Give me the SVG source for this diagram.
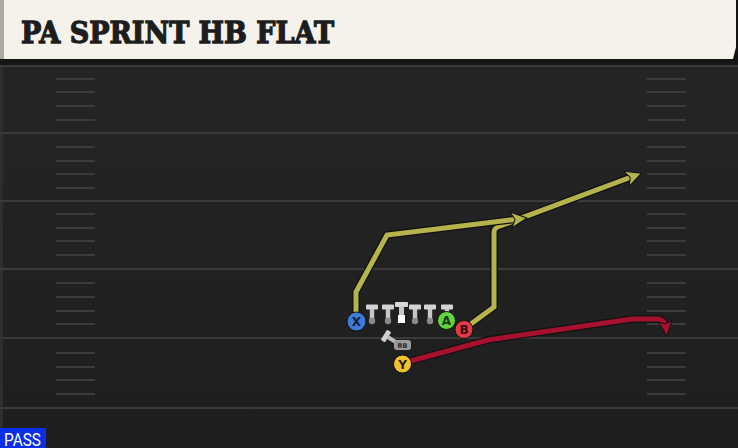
<svg xmlns="http://www.w3.org/2000/svg" width="738" height="448" viewBox="0 0 738 448">
<style>
.yl{stroke:#3a3a3a;stroke-width:2}
.hash{stroke:#3b3b3b;stroke-width:2}
.out{fill:none;stroke:#111;stroke-width:7.5;stroke-linejoin:miter;stroke-linecap:butt}
.ry{fill:none;stroke:#b4b34c;stroke-width:5;stroke-linejoin:miter}
.rr{fill:none;stroke:#a5112f;stroke-width:5;stroke-linejoin:miter}
.lbl{font-family:"DejaVu Sans",sans-serif;font-weight:bold;font-size:12px;text-anchor:middle}
.title{font-family:"DejaVu Serif",serif;font-weight:bold;font-size:30px;fill:#1d1d1d;stroke:#1d1d1d;stroke-width:1.3}
</style>
<defs>
<linearGradient id="bg" x1="0" y1="0" x2="0" y2="1">
<stop offset="0" stop-color="#262626"/><stop offset="1" stop-color="#1e1e1e"/>
</linearGradient>
<marker id="ay" markerUnits="userSpaceOnUse" markerWidth="30" markerHeight="30" refX="0" refY="0" viewBox="-15 -15 30 30" orient="auto" overflow="visible">
<path d="M8,0 L-8,-8 L-4,0 L-8,8 Z" fill="#b4b34c" stroke="#111" stroke-width="1"/>
</marker>
<marker id="ar" markerUnits="userSpaceOnUse" markerWidth="30" markerHeight="30" refX="0" refY="0" viewBox="-15 -15 30 30" orient="auto" overflow="visible">
<path d="M8,0 L-7,-7 L-4,0 L-7,7 Z" fill="#a5112f" stroke="#111" stroke-width="1"/>
</marker>
<g id="tman">
<rect x="-6" y="-2.5" width="12" height="5" rx="1" fill="#d4d4d4"/>
<rect x="-2.2" y="2" width="4.4" height="12" fill="#c8c8c8"/>
<circle cx="0" cy="14" r="3.2" fill="#8a8a8a"/>
</g>
</defs>
<rect width="738" height="448" fill="url(#bg)"/>
<rect x="0" y="59" width="3" height="389" fill="#2e2e2e"/>
<rect x="0" y="58" width="738" height="8" fill="#161616"/>
<g id="field">
<line class="yl" x1="0" y1="66" x2="738" y2="66"/>
<line class="yl" x1="0" y1="133" x2="738" y2="133"/>
<line class="yl" x1="0" y1="201" x2="738" y2="201"/>
<line class="yl" x1="0" y1="269" x2="738" y2="269"/>
<line class="yl" x1="0" y1="338" x2="738" y2="338"/>
<line class="yl" x1="0" y1="408" x2="738" y2="408"/>
<path class="hash" d="M56,79H95M56,92H95M56,106H95M56,120H95M56,147H95M56,161H95M56,174H95M56,188H95M56,214H95M56,228H95M56,241H95M56,255H95M56,283H95M56,297H95M56,311H95M56,324H95M56,353H95M56,367H95M56,380H95M56,394H95"/>
<path class="hash" d="M647,79H686M647,92H686M647,106H686M647,120H686M647,147H686M647,161H686M647,174H686M647,188H686M647,214H686M647,228H686M647,241H686M647,255H686M647,283H686M647,297H686M647,311H686M647,324H686M647,353H686M647,367H686M647,380H686M647,394H686"/>
</g>
<g id="header">
<rect x="0" y="0" width="738" height="60" fill="#141414"/>
<path d="M4,0 H736 V47 L733,59 H4 Z" fill="#f5f2eb"/>
<rect x="0" y="0" width="4" height="59" fill="#a9a9a6"/>
<text class="title" x="21" y="43" textLength="313" lengthAdjust="spacingAndGlyphs">PA SPRINT HB FLAT</text>
</g>
<g id="connectors">
<path class="out" d="M464,329 L494,307 L494,232 Q494,228 500,226 L634,176"/>
<path class="ry" d="M464,329 L494,307 L494,232 Q494,228 500,226 L634,176" marker-end="url(#ay)"/>
<path class="out" d="M356,321 L356,292 L387,235 L519,219"/>
<path class="ry" d="M356,321 L356,292 L387,235 L519,219" marker-end="url(#ay)"/>
<path class="out" d="M403,363 L488,340 L632,319 L658,319 Q665,320 666,328"/>
<path class="rr" d="M403,363 L488,340 L632,319 L658,319 Q665,320 666,328" marker-end="url(#ar)"/>
</g>
<g id="line">
<use href="#tman" x="372" y="307"/>
<use href="#tman" x="388" y="307"/>
<use href="#tman" x="415" y="307"/>
<use href="#tman" x="430" y="307"/>
<use href="#tman" x="447" y="307"/>
</g>
<g id="center">
<rect x="395" y="302" width="13" height="5" rx="1" fill="#d8d8d8"/>
<rect x="399" y="306" width="5" height="10" fill="#c8c8c8"/>
<rect x="398" y="315" width="7" height="8" fill="#ffffff"/>
</g>
<g id="rb">
<g transform="translate(386,336) rotate(-58)">
<rect x="-6" y="-2.5" width="12" height="5" rx="1" fill="#cfcfcf"/>
<rect x="-2" y="2" width="4" height="12" fill="#bdbdbd"/>
</g>
<rect x="394" y="340" width="17" height="10" rx="3" fill="#9b9b9b"/>
<text x="402.5" y="348" font-family="DejaVu Sans,sans-serif" font-weight="bold" font-size="6.5" text-anchor="middle" fill="#2a2a2a">RB</text>
</g>
<g id="X">
<circle cx="356.5" cy="321.5" r="9.5" fill="#3f7ad6" stroke="#111" stroke-width="1"/>
<text class="lbl" x="356.5" y="326" fill="#0f1d3a">X</text>
</g>
<g id="A">
<circle cx="446.5" cy="320.5" r="9" fill="#62d43c" stroke="#111" stroke-width="1"/>
<text class="lbl" x="446.5" y="325" fill="#123a10">A</text>
</g>
<g id="B">
<circle cx="464" cy="329.5" r="9" fill="#e23a46" stroke="#111" stroke-width="1"/>
<text class="lbl" x="464" y="334" fill="#3a0a0e">B</text>
</g>
<g id="Y">
<circle cx="402.5" cy="364" r="9" fill="#f1c22e" stroke="#111" stroke-width="1"/>
<text class="lbl" x="402.5" y="368.5" fill="#2a2205">Y</text>
</g>
<g id="pass">
<rect x="0" y="428" width="46" height="20" fill="#0a2fe6"/>
<text x="4" y="445.5" font-family="Roboto,sans-serif" font-size="18" fill="#ffffff" textLength="37" lengthAdjust="spacingAndGlyphs">PASS</text>
</g>
</svg>
